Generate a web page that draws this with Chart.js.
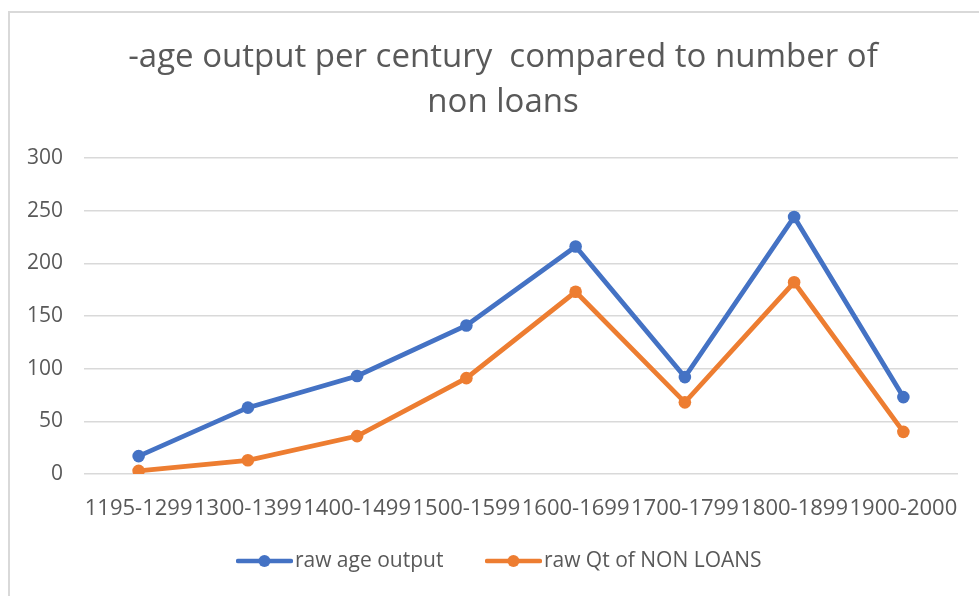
<!DOCTYPE html>
<html>
<head>
<meta charset="utf-8">
<script src="https://cdn.jsdelivr.net/npm/chart.js@4.4.1/dist/chart.umd.min.js"></script>
<style>
  html, body { margin: 0; padding: 0; background: #fff; }
  body { width: 979px; height: 596px; position: relative; overflow: hidden; }
  .frame { position: absolute; left: 8px; top: 11px; width: 980px; height: 600px;
           border-left: 2px solid #d9d9d9; border-top: 2px solid #d9d9d9; }
  .wrap { position: absolute; left: 0; top: 0; width: 979px; height: 596px; }
</style>
</head>
<body>
<div class="frame"></div>
<div class="wrap"><canvas id="c" width="979" height="596"></canvas></div>
<script>
const categories = ["1195-1299", "1300-1399", "1400-1499", "1500-1599", "1600-1699", "1700-1799", "1800-1899", "1900-2000"];
const rawAgeOutput = [17, 63, 93, 141, 216, 92, 244, 73];
const rawQtNonLoans = [3, 13, 36, 91, 173, 68, 182, 40];
const yTicks = [0, 50, 100, 150, 200, 250, 300];
const seriesNames = ["raw age output", "raw Qt of NON LOANS"];
const titleLines = ["-age output per century  compared to number of", "non loans"];

const BLUE = "#4472C4", ORANGE = "#ED7D31", TXT = "#595959", GRID = "#d9d9d9";
const FONT = "'Open Sans', 'DejaVu Sans', sans-serif";

function legendIcon(color) {
  const cv = document.createElement("canvas");
  cv.width = 57; cv.height = 14;
  const g = cv.getContext("2d");
  g.strokeStyle = color; g.lineWidth = 4.5; g.lineCap = "round";
  g.beginPath(); g.moveTo(2, 7); g.lineTo(55, 7); g.stroke();
  g.fillStyle = color;
  g.beginPath(); g.arc(28.5, 7, 6, 0, Math.PI * 2); g.fill();
  return cv;
}
const icons = [legendIcon(BLUE), legendIcon(ORANGE)];

new Chart(document.getElementById("c"), {
  type: "line",
  data: {
    labels: categories,
    datasets: [
      { label: seriesNames[0], data: rawAgeOutput, borderColor: BLUE, backgroundColor: BLUE,
        borderWidth: 4.8, pointRadius: 6.3, pointHoverRadius: 6.3, pointBackgroundColor: BLUE, pointBorderWidth: 0, tension: 0 },
      { label: seriesNames[1], data: rawQtNonLoans, borderColor: ORANGE, backgroundColor: ORANGE,
        borderWidth: 4.8, pointRadius: 6.3, pointHoverRadius: 6.3, pointBackgroundColor: ORANGE, pointBorderWidth: 0, tension: 0 }
    ]
  },
  options: {
    responsive: false,
    animation: false,
    devicePixelRatio: 1,
    layout: { padding: { left: 48, right: 21, top: 0, bottom: 14.5 } },
    plugins: {
      tooltip: { enabled: false },
      title: {
        display: true,
        text: titleLines,
        color: TXT,
        font: { family: FONT, size: 33, weight: "normal", lineHeight: "45px" },
        padding: { top: 35.5, bottom: 32.5 }
      },
      legend: {
        display: true,
        position: "bottom",
        labels: {
          color: TXT,
          font: { family: FONT, size: 21 },
          usePointStyle: true,
          pointStyleWidth: 40,
          padding: 50,
          generateLabels: (chart) => chart.data.datasets.map((ds, i) => ({
            text: ds.label, fillStyle: ds.borderColor, strokeStyle: ds.borderColor,
            lineWidth: 0, pointStyle: icons[i], hidden: false, datasetIndex: i, fontColor: TXT
          }))
        }
      }
    },
    scales: {
      x: {
        offset: true,
        grid: { display: false, drawTicks: false },
        border: { display: false },
        ticks: { color: TXT, font: { family: FONT, size: 22 }, maxRotation: 0, minRotation: 0,
                 autoSkip: false, mirror: true, padding: -48.2 },
        afterFit: (s) => { s.height = 26.5; }
      },
      y: {
        min: 0, max: 300,
        afterBuildTicks: (s) => { s.ticks = yTicks.map(v => ({ value: v })); },
        grid: { color: GRID, lineWidth: 1.5, drawTicks: false },
        border: { display: false },
        ticks: { color: TXT, font: { family: FONT, size: 21 }, mirror: true, crossAlign: "far", padding: -57 },
        afterFit: (s) => { s.width = 36; }
      }
    }
  }
});
</script>
</body>
</html>
